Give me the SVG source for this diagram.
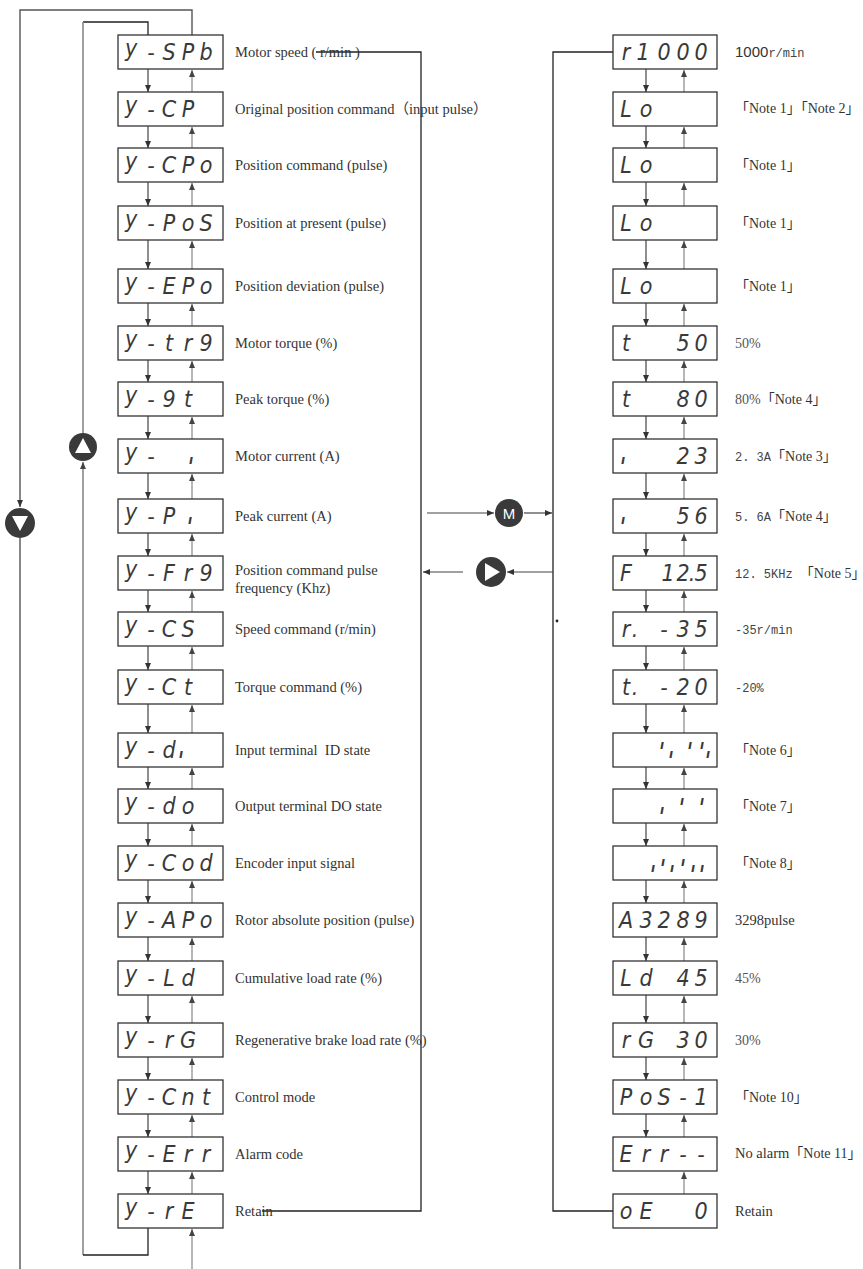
<svg xmlns="http://www.w3.org/2000/svg" width="863" height="1269" viewBox="0 0 863 1269">
<style>
.box{fill:#fff;stroke:#333;stroke-width:1.3}
.seg{font-family:"DejaVu Sans Condensed","DejaVu Sans",sans-serif;font-stretch:condensed;font-style:oblique;font-size:23px;fill:#3a3a3a;text-anchor:middle}
.tick{font-family:"DejaVu Sans",sans-serif;font-style:oblique;font-weight:bold;font-size:12px;fill:#3a3a3a;text-anchor:middle}
.lbl{font-family:"Liberation Serif","Noto Sans CJK SC",serif;font-size:14.5px;fill:#333}
.note{font-family:"Liberation Serif","Noto Sans CJK SC",serif;font-size:14px;fill:#333}
.mono{font-family:"Liberation Mono",monospace;font-size:12px;fill:#444}
.pct{font-family:"Liberation Serif",serif;font-size:14px;fill:#555}
.dn{stroke:#444;stroke-width:1.2;fill:none;marker-end:url(#ad)}
.up{stroke:#999;stroke-width:1.4;fill:none;marker-end:url(#au)}
.wire{stroke:#222;stroke-width:1.3;fill:none}
.wg{stroke:#555;stroke-width:1.4;fill:none}
.wl{stroke:#888;stroke-width:1.6;fill:none}
.key{fill:#3a3a3a}
</style>
<defs>
<marker id="ad" markerUnits="userSpaceOnUse" markerWidth="7" markerHeight="6" refX="7" refY="3" orient="auto"><path d="M0,0 L7,3 L0,6 z" fill="#333"/></marker>
<marker id="au" markerUnits="userSpaceOnUse" markerWidth="7" markerHeight="6" refX="7" refY="3" orient="auto"><path d="M0,0 L7,3 L0,6 z" fill="#444"/></marker>
</defs>
<rect width="863" height="1269" fill="#fff"/>

<g id="connectors">
<polyline class="wg" points="192,35 192,10 20,10 20,507" marker-end="url(#ad)"/>
<line class="wg" x1="20" y1="538" x2="20" y2="1269"/>
<polyline class="wire" points="148,35 148,22 83,22"/>
<line class="wl" x1="83" y1="22" x2="83" y2="433"/>
<line class="wl" x1="83" y1="1255" x2="83" y2="462" marker-end="url(#au)"/>
<polyline class="wire" points="148,1228 148,1255 83,1255"/>
<line class="up" x1="192" y1="1269" x2="192" y2="1229"/>
<polyline class="wire" points="316,52 421,52 421,1211 262,1211"/>
<polyline class="wire" points="613,52 553,52 553,1211 613,1211"/>
<line class="dn" x1="427" y1="513" x2="494" y2="513"/>
<line class="dn" x1="524" y1="513" x2="552" y2="513"/>
<line class="dn" x1="553" y1="572" x2="507" y2="572"/>
<line class="dn" x1="463" y1="572" x2="423" y2="572"/>
<circle cx="557" cy="621" r="1.4" fill="#222"/>
<line class="dn" x1="148" y1="69" x2="148" y2="92"/>
<line class="dn" x1="148" y1="126" x2="148" y2="148"/>
<line class="dn" x1="148" y1="182" x2="148" y2="206"/>
<line class="dn" x1="148" y1="240" x2="148" y2="269"/>
<line class="dn" x1="148" y1="303" x2="148" y2="326"/>
<line class="dn" x1="148" y1="360" x2="148" y2="382"/>
<line class="dn" x1="148" y1="416" x2="148" y2="439"/>
<line class="dn" x1="148" y1="473" x2="148" y2="499"/>
<line class="dn" x1="148" y1="533" x2="148" y2="556"/>
<line class="dn" x1="148" y1="590" x2="148" y2="612"/>
<line class="dn" x1="148" y1="646" x2="148" y2="670"/>
<line class="dn" x1="148" y1="704" x2="148" y2="733"/>
<line class="dn" x1="148" y1="767" x2="148" y2="789"/>
<line class="dn" x1="148" y1="823" x2="148" y2="846"/>
<line class="dn" x1="148" y1="880" x2="148" y2="903"/>
<line class="dn" x1="148" y1="937" x2="148" y2="961"/>
<line class="dn" x1="148" y1="995" x2="148" y2="1023"/>
<line class="dn" x1="148" y1="1057" x2="148" y2="1080"/>
<line class="dn" x1="148" y1="1114" x2="148" y2="1137"/>
<line class="dn" x1="148" y1="1171" x2="148" y2="1194"/>
<line class="up" x1="192" y1="92" x2="192" y2="70"/>
<line class="up" x1="192" y1="148" x2="192" y2="127"/>
<line class="up" x1="192" y1="206" x2="192" y2="183"/>
<line class="up" x1="192" y1="269" x2="192" y2="241"/>
<line class="up" x1="192" y1="326" x2="192" y2="304"/>
<line class="up" x1="192" y1="382" x2="192" y2="361"/>
<line class="up" x1="192" y1="439" x2="192" y2="417"/>
<line class="up" x1="192" y1="499" x2="192" y2="474"/>
<line class="up" x1="192" y1="556" x2="192" y2="534"/>
<line class="up" x1="192" y1="612" x2="192" y2="591"/>
<line class="up" x1="192" y1="670" x2="192" y2="647"/>
<line class="up" x1="192" y1="733" x2="192" y2="705"/>
<line class="up" x1="192" y1="789" x2="192" y2="768"/>
<line class="up" x1="192" y1="846" x2="192" y2="824"/>
<line class="up" x1="192" y1="903" x2="192" y2="881"/>
<line class="up" x1="192" y1="961" x2="192" y2="938"/>
<line class="up" x1="192" y1="1023" x2="192" y2="996"/>
<line class="up" x1="192" y1="1080" x2="192" y2="1058"/>
<line class="up" x1="192" y1="1137" x2="192" y2="1115"/>
<line class="up" x1="192" y1="1194" x2="192" y2="1172"/>
<line class="dn" x1="646" y1="69" x2="646" y2="92"/>
<line class="dn" x1="646" y1="126" x2="646" y2="148"/>
<line class="dn" x1="646" y1="182" x2="646" y2="206"/>
<line class="dn" x1="646" y1="240" x2="646" y2="269"/>
<line class="dn" x1="646" y1="303" x2="646" y2="326"/>
<line class="dn" x1="646" y1="360" x2="646" y2="382"/>
<line class="dn" x1="646" y1="416" x2="646" y2="439"/>
<line class="dn" x1="646" y1="473" x2="646" y2="499"/>
<line class="dn" x1="646" y1="533" x2="646" y2="556"/>
<line class="dn" x1="646" y1="590" x2="646" y2="612"/>
<line class="dn" x1="646" y1="646" x2="646" y2="670"/>
<line class="dn" x1="646" y1="704" x2="646" y2="733"/>
<line class="dn" x1="646" y1="767" x2="646" y2="789"/>
<line class="dn" x1="646" y1="823" x2="646" y2="846"/>
<line class="dn" x1="646" y1="880" x2="646" y2="903"/>
<line class="dn" x1="646" y1="937" x2="646" y2="961"/>
<line class="dn" x1="646" y1="995" x2="646" y2="1023"/>
<line class="dn" x1="646" y1="1057" x2="646" y2="1080"/>
<line class="dn" x1="646" y1="1114" x2="646" y2="1137"/>
<line class="up" x1="684" y1="92" x2="684" y2="70"/>
<line class="up" x1="684" y1="148" x2="684" y2="127"/>
<line class="up" x1="684" y1="206" x2="684" y2="183"/>
<line class="up" x1="684" y1="269" x2="684" y2="241"/>
<line class="up" x1="684" y1="326" x2="684" y2="304"/>
<line class="up" x1="684" y1="382" x2="684" y2="361"/>
<line class="up" x1="684" y1="439" x2="684" y2="417"/>
<line class="up" x1="684" y1="499" x2="684" y2="474"/>
<line class="up" x1="684" y1="556" x2="684" y2="534"/>
<line class="up" x1="684" y1="612" x2="684" y2="591"/>
<line class="up" x1="684" y1="670" x2="684" y2="647"/>
<line class="up" x1="684" y1="733" x2="684" y2="705"/>
<line class="up" x1="684" y1="789" x2="684" y2="768"/>
<line class="up" x1="684" y1="846" x2="684" y2="824"/>
<line class="up" x1="684" y1="903" x2="684" y2="881"/>
<line class="up" x1="684" y1="961" x2="684" y2="938"/>
<line class="up" x1="684" y1="1023" x2="684" y2="996"/>
<line class="up" x1="684" y1="1080" x2="684" y2="1058"/>
<line class="up" x1="684" y1="1137" x2="684" y2="1115"/>
<line class="up" x1="684" y1="1194" x2="684" y2="1172"/>
</g>

<g id="key-up"><circle class="key" cx="83" cy="447" r="14"/><polygon points="83,438 75,453 91,453" fill="#fff"/></g>
<g id="key-down"><circle class="key" cx="20" cy="523" r="15"/><polygon points="12,516 28,516 20,531" fill="#fff"/></g>
<g id="key-m"><circle class="key" cx="509" cy="513" r="14"/><text x="509" y="518.5" font-family="Liberation Sans,sans-serif" font-size="15" fill="#fff" text-anchor="middle">M</text></g>
<g id="key-shift"><circle class="key" cx="491" cy="572" r="15"/><polygon points="485,563 485,581 500,572" fill="#fff"/></g>

<g id="L1"><rect class="box" x="118" y="35" width="105" height="34"/><text class="seg" x="131 151 169 188 206" y="56 60">y-SPb</text><text class="lbl" x="235" y="57">Motor speed ( r/min )</text></g>
<g id="L2"><rect class="box" x="118" y="92" width="105" height="34"/><text class="seg" x="131 151 169 188" y="113 117">y-CP</text><text class="lbl" x="235" y="114">Original position command（input pulse）</text></g>
<g id="L3"><rect class="box" x="118" y="148" width="105" height="34"/><text class="seg" x="131 151 169 188 206" y="169 173">y-CPo</text><text class="lbl" x="235" y="170">Position command (pulse)</text></g>
<g id="L4"><rect class="box" x="118" y="206" width="105" height="34"/><text class="seg" x="131 151 169 188 206" y="227 231">y-PoS</text><text class="lbl" x="235" y="228">Position at present (pulse)</text></g>
<g id="L5"><rect class="box" x="118" y="269" width="105" height="34"/><text class="seg" x="131 151 169 188 206" y="290 294">y-EPo</text><text class="lbl" x="235" y="291">Position deviation (pulse)</text></g>
<g id="L6"><rect class="box" x="118" y="326" width="105" height="34"/><text class="seg" x="131 151 169 188 206" y="347 351">y-tr9</text><text class="lbl" x="235" y="348">Motor torque (%)</text></g>
<g id="L7"><rect class="box" x="118" y="382" width="105" height="34"/><text class="seg" x="131 151 169 188" y="403 407">y-9t</text><text class="lbl" x="235" y="404">Peak torque (%)</text></g>
<g id="L8"><rect class="box" x="118" y="439" width="105" height="34"/><text class="seg" x="131 151" y="460 464">y-</text><text class="tick" x="191" y="464">ı</text><text class="lbl" x="235" y="461">Motor current (A)</text></g>
<g id="L9"><rect class="box" x="118" y="499" width="105" height="34"/><text class="seg" x="131 151 169" y="520 524">y-P</text><text class="tick" x="190" y="524">ı</text><text class="lbl" x="235" y="521">Peak current (A)</text></g>
<g id="L10"><rect class="box" x="118" y="556" width="105" height="34"/><text class="seg" x="131 151 169 188 206" y="577 581">y-Fr9</text><text class="lbl" x="235" y="575">Position command pulse</text><text class="lbl" x="235" y="593">frequency (Khz)</text></g>
<g id="L11"><rect class="box" x="118" y="612" width="105" height="34"/><text class="seg" x="131 151 169 188" y="633 637">y-CS</text><text class="lbl" x="235" y="634">Speed command (r/min)</text></g>
<g id="L12"><rect class="box" x="118" y="670" width="105" height="34"/><text class="seg" x="131 151 169 188" y="691 695">y-Ct</text><text class="lbl" x="235" y="692">Torque command (%)</text></g>
<g id="L13"><rect class="box" x="118" y="733" width="105" height="34"/><text class="seg" x="131 151 169" y="754 758">y-d</text><text class="tick" x="181" y="758">ı</text><text class="lbl" x="235" y="755" xml:space="preserve">Input terminal  ID state</text></g>
<g id="L14"><rect class="box" x="118" y="789" width="105" height="34"/><text class="seg" x="131 151 169 188" y="810 814">y-do</text><text class="lbl" x="235" y="811">Output terminal DO state</text></g>
<g id="L15"><rect class="box" x="118" y="846" width="105" height="34"/><text class="seg" x="131 151 169 188 206" y="867 871">y-Cod</text><text class="lbl" x="235" y="868">Encoder input signal</text></g>
<g id="L16"><rect class="box" x="118" y="903" width="105" height="34"/><text class="seg" x="131 151 169 188 206" y="924 928">y-APo</text><text class="lbl" x="235" y="925">Rotor absolute position (pulse)</text></g>
<g id="L17"><rect class="box" x="118" y="961" width="105" height="34"/><text class="seg" x="131 151 169 188" y="982 986">y-Ld</text><text class="lbl" x="235" y="983">Cumulative load rate (%)</text></g>
<g id="L18"><rect class="box" x="118" y="1023" width="105" height="34"/><text class="seg" x="131 151 169 188" y="1044 1048">y-rG</text><text class="lbl" x="235" y="1045">Regenerative brake load rate (%)</text></g>
<g id="L19"><rect class="box" x="118" y="1080" width="105" height="34"/><text class="seg" x="131 151 169 188 206" y="1101 1105">y-Cnt</text><text class="lbl" x="235" y="1102">Control mode</text></g>
<g id="L20"><rect class="box" x="118" y="1137" width="105" height="34"/><text class="seg" x="131 151 169 188 206" y="1158 1162">y-Err</text><text class="lbl" x="235" y="1159">Alarm code</text></g>
<g id="L21"><rect class="box" x="118" y="1194" width="105" height="34"/><text class="seg" x="131 151 169 188" y="1215 1219">y-rE</text><text class="lbl" x="235" y="1216">Retain</text></g>

<g id="R1"><rect class="box" x="613" y="35" width="104" height="34"/><text class="seg" x="626 643 664 683 701" y="60">r1000</text><text x="735" y="57"><tspan font-family="Liberation Sans,sans-serif" font-size="15" fill="#333">1000</tspan><tspan class="mono" font-size="14">r/min</tspan></text></g>
<g id="R2"><rect class="box" x="613" y="92" width="104" height="34"/><text class="seg" x="626 646" y="117">Lo</text><text class="note" x="735" y="113">「Note 1」「Note 2」</text></g>
<g id="R3"><rect class="box" x="613" y="148" width="104" height="34"/><text class="seg" x="626 646" y="173">Lo</text><text class="note" x="735" y="170">「Note 1」</text></g>
<g id="R4"><rect class="box" x="613" y="206" width="104" height="34"/><text class="seg" x="626 646" y="231">Lo</text><text class="note" x="735" y="228">「Note 1」</text></g>
<g id="R5"><rect class="box" x="613" y="269" width="104" height="34"/><text class="seg" x="626 646" y="294">Lo</text><text class="note" x="735" y="291">「Note 1」</text></g>
<g id="R6"><rect class="box" x="613" y="326" width="104" height="34"/><text class="seg" x="626 683 701" y="351">t50</text><text class="pct" x="735" y="348">50%</text></g>
<g id="R7"><rect class="box" x="613" y="382" width="104" height="34"/><text class="seg" x="626 683 701" y="407">t80</text><text x="735" y="404"><tspan class="pct" fill="#333">80%</tspan><tspan class="note">「Note 4」</tspan></text></g>
<g id="R8"><rect class="box" x="613" y="439" width="104" height="34"/><text class="tick" x="623" y="464">ı</text><text class="seg" x="683 701" y="464">23</text><text x="735" y="461"><tspan class="mono">2. 3A</tspan><tspan class="note">「Note 3」</tspan></text></g>
<g id="R9"><rect class="box" x="613" y="499" width="104" height="34"/><text class="tick" x="623" y="524">ı</text><text class="seg" x="683 701" y="524">56</text><text x="735" y="521"><tspan class="mono">5. 6A</tspan><tspan class="note">「Note 4」</tspan></text></g>
<g id="R10"><rect class="box" x="613" y="556" width="104" height="34"/><text class="seg" x="626 668 683 692 701" y="581">F12.5</text><text x="735" y="578" xml:space="preserve"><tspan class="mono">12. 5KHz </tspan><tspan class="note">「Note 5」</tspan></text></g>
<g id="R11"><rect class="box" x="613" y="612" width="104" height="34"/><text class="seg" x="626 635 664 683 701" y="637">r.-35</text><text class="mono" x="735" y="634">-35r/min</text></g>
<g id="R12"><rect class="box" x="613" y="670" width="104" height="34"/><text class="seg" x="626 635 664 683 701" y="695">t.-20</text><text class="mono" x="735" y="692">-20%</text></g>
<g id="R13"><rect class="box" x="613" y="733" width="104" height="34"/><text class="tick" x="662 671 690 702 708" y="749 758 749 749 758">ııııı</text><text class="note" x="735" y="755">「Note 6」</text></g>
<g id="R14"><rect class="box" x="613" y="789" width="104" height="34"/><text class="tick" x="662 682 702" y="814 805 805">ııı</text><text class="note" x="735" y="811">「Note 7」</text></g>
<g id="R15"><rect class="box" x="613" y="846" width="104" height="34"/><text class="tick" x="653 663 672 683 693 702" y="872 866 872 866 872 872">ıııııı</text><text class="note" x="735" y="868">「Note 8」</text></g>
<g id="R16"><rect class="box" x="613" y="903" width="104" height="34"/><text class="seg" x="626 646 664 683 701" y="928">A3289</text><text class="lbl" x="735" y="925" font-size="15.5">3298pulse</text></g>
<g id="R17"><rect class="box" x="613" y="961" width="104" height="34"/><text class="seg" x="626 646 683 701" y="986">Ld45</text><text class="pct" x="735" y="983">45%</text></g>
<g id="R18"><rect class="box" x="613" y="1023" width="104" height="34"/><text class="seg" x="626 646 683 701" y="1048">rG30</text><text class="pct" x="735" y="1045">30%</text></g>
<g id="R19"><rect class="box" x="613" y="1080" width="104" height="34"/><text class="seg" x="626 646 664 683 701" y="1105">PoS-1</text><text class="note" x="735" y="1102">「Note 10」</text></g>
<g id="R20"><rect class="box" x="613" y="1137" width="104" height="34"/><text class="seg" x="626 646 664 683 701" y="1162">Err--</text><text x="735" y="1158"><tspan class="lbl" font-size="15.5">No alarm</tspan><tspan class="note" font-size="12.5">「Note 11」</tspan></text></g>
<g id="R21"><rect class="box" x="613" y="1194" width="104" height="34"/><text class="seg" x="626 646 701" y="1219">oE0</text><text class="lbl" x="735" y="1216">Retain</text></g>
</svg>
